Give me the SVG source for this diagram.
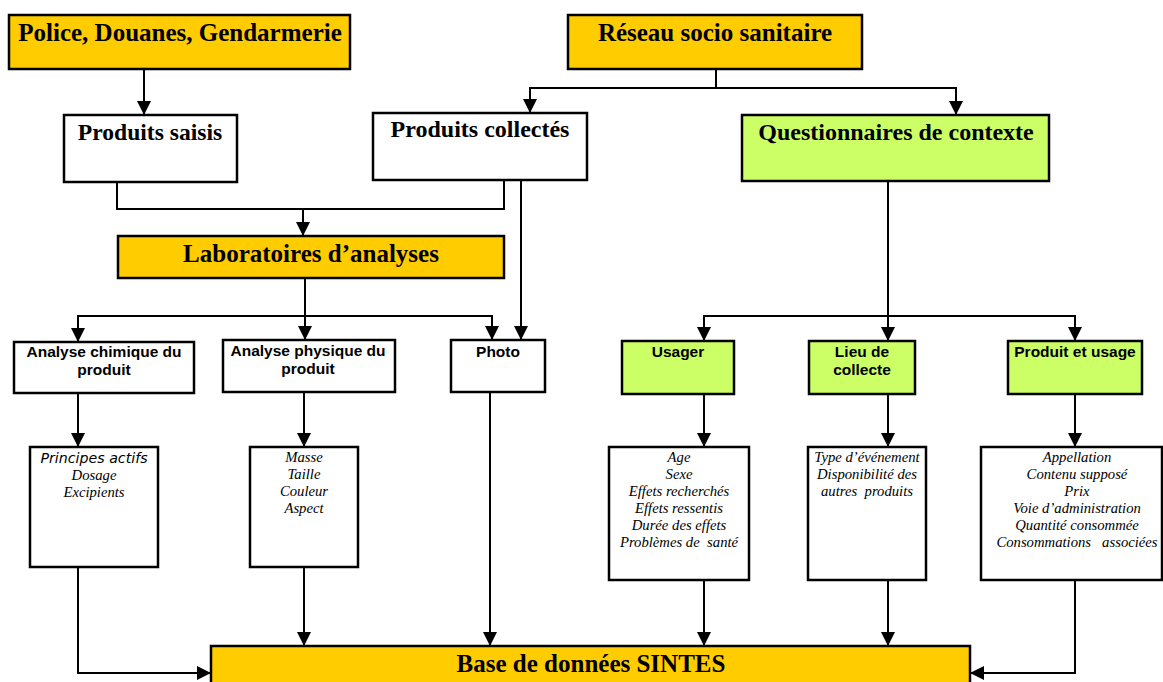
<svg xmlns="http://www.w3.org/2000/svg" width="1163" height="682" viewBox="0 0 1163 682">
<defs>
<style>
.box{stroke:#000;stroke-width:2.5}
.w{fill:#fff}
.o{fill:#FFCC00}
.g{fill:#CCFF66}
.t1{font-family:"Liberation Serif",serif;font-weight:bold;font-size:25px;fill:#000;text-anchor:middle}
.t2{font-family:"Liberation Sans",Arial,sans-serif;font-weight:bold;font-size:15.5px;fill:#000;text-anchor:middle}
.t3{font-family:"Liberation Serif",serif;font-style:italic;font-size:14.7px;fill:#000;text-anchor:middle}
.t4{font-family:"DejaVu Sans",sans-serif;font-style:italic;font-size:14.2px;fill:#000;text-anchor:middle}
.c{fill:none;stroke:#000;stroke-width:2}
</style>
<marker id="ah" viewBox="0 0 14 14" refX="14" refY="7" markerWidth="14" markerHeight="14" markerUnits="userSpaceOnUse" orient="auto">
<path d="M0,0 L14,7 L0,14 Z" fill="#000"/>
</marker>
</defs>
<rect width="1163" height="682" fill="#fff"/>

<g id="connectors">
<path class="c" d="M144,69 V115" marker-end="url(#ah)"/>
<path class="c" d="M716,69 V88"/>
<path class="c" d="M716,88 H530 V113" marker-end="url(#ah)"/>
<path class="c" d="M716,88 H956 V115" marker-end="url(#ah)"/>
<path class="c" d="M117,182 V209 H504 V180"/>
<path class="c" d="M303,209 V236" marker-end="url(#ah)"/>
<path class="c" d="M521,180 V340" marker-end="url(#ah)"/>
<path class="c" d="M305,278 V316"/>
<path class="c" d="M305,316 H78 V342" marker-end="url(#ah)"/>
<path class="c" d="M305,316 V340" marker-end="url(#ah)"/>
<path class="c" d="M305,316 H492 V340" marker-end="url(#ah)"/>
<path class="c" d="M888,181 V316"/>
<path class="c" d="M888,316 H704 V341" marker-end="url(#ah)"/>
<path class="c" d="M888,316 V341" marker-end="url(#ah)"/>
<path class="c" d="M888,316 H1075 V341" marker-end="url(#ah)"/>
<path class="c" d="M78,393 V447" marker-end="url(#ah)"/>
<path class="c" d="M304,392 V447" marker-end="url(#ah)"/>
<path class="c" d="M704,394 V447" marker-end="url(#ah)"/>
<path class="c" d="M888,394 V447" marker-end="url(#ah)"/>
<path class="c" d="M1075,394 V447" marker-end="url(#ah)"/>
<path class="c" d="M78,567 V673 H211" marker-end="url(#ah)"/>
<path class="c" d="M304,567 V646" marker-end="url(#ah)"/>
<path class="c" d="M490,392 V646" marker-end="url(#ah)"/>
<path class="c" d="M704,580 V646" marker-end="url(#ah)"/>
<path class="c" d="M888,580 V646" marker-end="url(#ah)"/>
<path class="c" d="M1075,580 V673 H970" marker-end="url(#ah)"/>
</g>

<g id="police"><rect class="box o" x="9" y="15" width="341" height="54"/><text class="t1" x="180" y="41">Police, Douanes, Gendarmerie</text></g>
<g id="reseau"><rect class="box o" x="568" y="15" width="294" height="54"/><text class="t1" x="715" y="41">Réseau socio sanitaire</text></g>
<g id="saisis"><rect class="box w" x="64" y="115" width="173" height="67"/><text class="t1" x="150" y="140" style="font-size:23.6px">Produits saisis</text></g>
<g id="collectes"><rect class="box w" x="373" y="113" width="214" height="67"/><text class="t1" x="480" y="137" style="font-size:24px">Produits collectés</text></g>
<g id="questionnaires"><rect class="box g" x="742" y="115" width="307" height="66"/><text class="t1" x="896" y="140" style="font-size:24px">Questionnaires de contexte</text></g>
<g id="labo"><rect class="box o" x="118" y="236" width="386" height="42"/><text class="t1" x="311" y="262">Laboratoires d’analyses</text></g>

<g id="chimique"><rect class="box w" x="14" y="342" width="180" height="51"/><text class="t2" x="104" y="357">Analyse chimique du</text><text class="t2" x="104" y="375">produit</text></g>
<g id="physique"><rect class="box w" x="223" y="340" width="172" height="52"/><text class="t2" x="308" y="356">Analyse physique du</text><text class="t2" x="308" y="374">produit</text></g>
<g id="photo"><rect class="box w" x="451" y="340" width="94" height="52"/><text class="t2" x="498" y="357">Photo</text></g>
<g id="usager"><rect class="box g" x="622" y="341" width="112" height="53"/><text class="t2" x="678" y="357">Usager</text></g>
<g id="lieu"><rect class="box g" x="809" y="341" width="106" height="53"/><text class="t2" x="862" y="357">Lieu de</text><text class="t2" x="862" y="375">collecte</text></g>
<g id="produitusage"><rect class="box g" x="1008" y="341" width="134" height="53"/><text class="t2" x="1075" y="357">Produit et usage</text></g>

<g id="principes"><rect class="box w" x="30" y="447" width="128" height="120"/><text class="t4" x="94" y="463">Principes actifs</text><text class="t3" x="94" y="480">Dosage</text><text class="t3" x="94" y="497">Excipients</text></g>
<g id="masse"><rect class="box w" x="250" y="447" width="108" height="120"/><text class="t3" x="304" y="462">Masse</text><text class="t3" x="304" y="479">Taille</text><text class="t3" x="304" y="496">Couleur</text><text class="t3" x="304" y="513">Aspect</text></g>
<g id="age"><rect class="box w" x="609" y="447" width="140" height="133"/><text class="t3" x="679" y="462">Age</text><text class="t3" x="679" y="479">Sexe</text><text class="t3" x="679" y="496">Effets recherchés</text><text class="t3" x="679" y="513">Effets ressentis</text><text class="t3" x="679" y="530">Durée des effets</text><text class="t3" x="679" y="547" xml:space="preserve">Problèmes de  santé</text></g>
<g id="type"><rect class="box w" x="808" y="447" width="118" height="133"/><text class="t3" x="867" y="462">Type d’événement</text><text class="t3" x="867" y="479">Disponibilité des</text><text class="t3" x="867" y="496" xml:space="preserve">autres  produits</text></g>
<g id="appellation"><rect class="box w" x="981" y="447" width="181" height="133"/><text class="t3" x="1077" y="462">Appellation</text><text class="t3" x="1077" y="479">Contenu supposé</text><text class="t3" x="1077" y="496">Prix</text><text class="t3" x="1077" y="513">Voie d’administration</text><text class="t3" x="1077" y="530">Quantité consommée</text><text class="t3" x="1077" y="547" xml:space="preserve">Consommations   associées</text></g>

<g id="base"><rect class="box o" x="211" y="646" width="759" height="50"/><text class="t1" x="591" y="672">Base de données SINTES</text></g>
</svg>
